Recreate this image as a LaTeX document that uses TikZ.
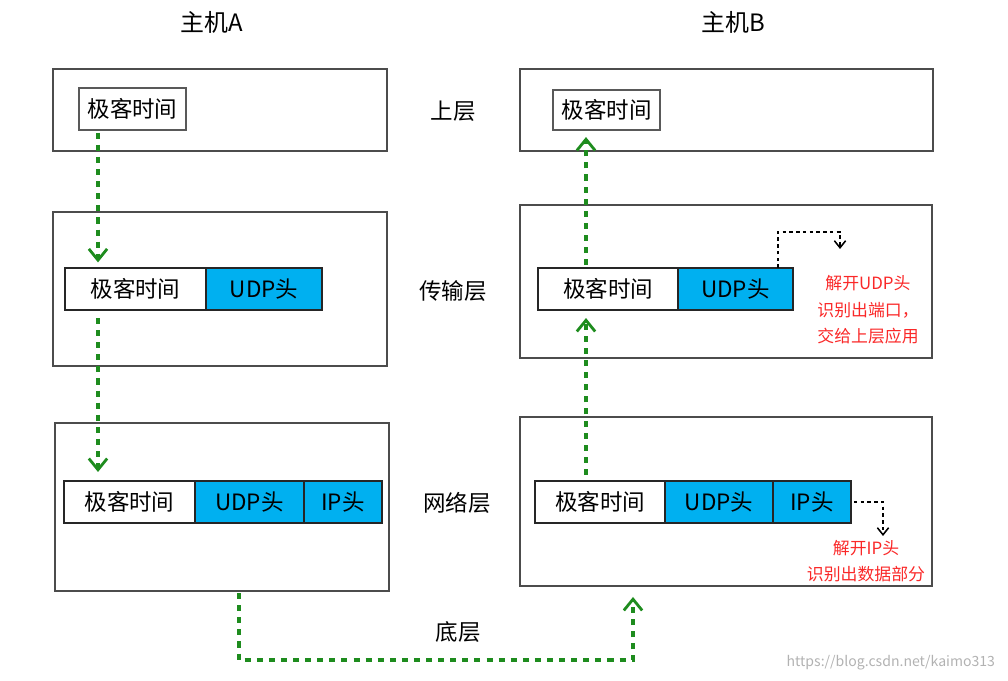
\documentclass[tikz,border=0pt]{standalone}
\usepackage{fontspec}
\setmainfont{Noto Sans CJK SC}
\usepackage{tikz}
\usetikzlibrary{positioning,arrows.meta}

\definecolor{udpblue}{RGB}{0,176,240}
\definecolor{flowgreen}{RGB}{30,140,30}
\definecolor{notered}{RGB}{250,40,40}
\newcommand{\px}{0.025cm}

\tikzset{
  layer/.style={draw=black!70, line width=0.8pt, inner sep=0pt, outer sep=0pt},
  cell/.style={draw=black!85, line width=0.8pt, minimum height=42*\px, inner sep=0pt, outer sep=0pt, font=\fontsize{16}{19}\selectfont},
  hdr/.style={cell, fill=udpblue},
  host/.style={font=\fontsize{17}{20}\selectfont},
  lbl/.style={font=\fontsize{16}{19}\selectfont},
  note/.style={text=notered, align=center, font=\fontsize{12}{18.8}\selectfont},
  flow/.style={draw=flowgreen, line width=2.2pt, dash pattern=on 4.3pt off 4.3pt, -{Straight Barb[length=8pt, width=13pt, line width=2pt]}},
  peel/.style={draw=black, line width=1.1pt, dash pattern=on 2.6pt off 2.2pt, -{Straight Barb[length=5pt, width=8pt]}}
}

\begin{document}
\begin{tikzpicture}[x=0.025cm, y=-0.025cm]
\useasboundingbox (0,0) rectangle (1008,681);

% host A
\node[host] (tA) at (212,22) {主机A};
\node[layer, minimum width=334*\px, minimum height=82*\px] (la1) at (220,110) {};
\node[cell, draw=black!65, minimum width=107*\px] (aU) at (132.5,109) {极客时间};
\node[layer, minimum width=334*\px, minimum height=154*\px] (la2) at (220,289) {};
\node[cell, minimum width=141*\px] (aT1) at (135.5,289) {极客时间};
\node[hdr, minimum width=116*\px, right=0pt of aT1] (aT2) {UDP头};
\node[layer, minimum width=334*\px, minimum height=168*\px] (la3) at (222,507) {};
\node[cell, minimum width=131*\px] (aN1) at (129.5,502) {极客时间};
\node[hdr, minimum width=109*\px, right=0pt of aN1] (aN2) {UDP头};
\node[hdr, minimum width=78*\px, right=0pt of aN2] (aN3) {IP头};

% layer names
\node[lbl] (l1) at (453,111) {上层};
\node[lbl] (l2) at (453,291) {传输层};
\node[lbl] (l3) at (457,503) {网络层};
\node[lbl] (l4) at (458,632) {底层};

% host B
\node[host] (tB) at (733,22) {主机B};
\node[layer, minimum width=413*\px, minimum height=82*\px] (lb1) at (726.5,110) {};
\node[cell, draw=black!65, minimum width=107*\px, minimum height=40*\px] (bU) at (606.5,110) {极客时间};
\node[layer, minimum width=412*\px, minimum height=153*\px] (lb2) at (726,281.5) {};
\node[cell, minimum width=140*\px] (bT1) at (608,289) {极客时间};
\node[hdr, minimum width=115*\px, right=0pt of bT1] (bT2) {UDP头};
\node[layer, minimum width=412*\px, minimum height=169*\px] (lb3) at (726,501.5) {};
\node[cell, minimum width=130*\px] (bN1) at (600,502) {极客时间};
\node[hdr, minimum width=108*\px, right=0pt of bN1] (bN2) {UDP头};
\node[hdr, minimum width=78*\px, right=0pt of bN2] (bN3) {IP头};

\node[note] (n1) at (868,310) {解开UDP头\\识别出端口，\\交给上层应用};
\node[note] (n2) at (866,561) {解开IP头\\识别出数据部分};

% data flow
\coordinate (ax) at (98,0);
\coordinate (bx) at (586,0);
\draw[flow, shorten <=2pt, shorten >=4pt] (aU.south -| ax) -- (aT1.north -| ax);
\draw[flow, shorten <=5.7pt, shorten >=6.4pt] (aT1.south -| ax) -- (aN1.north -| ax);
\coordinate (dA) at (239,660);
\coordinate (dB) at (633,660);
\draw[flow, shorten <=1.5pt, shorten >=7.8pt] (la3.south -| dA) -- (dA) -- (dB) -- (lb3.south -| dB);
\draw[flow, shorten <=4.3pt, shorten >=5.7pt] (bN1.north -| bx) -- (bT1.south -| bx);
\draw[flow, shorten <=2pt, shorten >=5pt] (bT1.north -| bx) -- (bU.south -| bx);

% unpacking
\coordinate (k1) at (840,232);
\coordinate (k2) at (840,249);
\draw[peel] ([xshift=-15*\px]bT2.north east) |- (k1) -- (k2);
\coordinate (k3) at (883,536);
\draw[peel, shorten <=2pt] (bN3.east) -| (k3);

\node[anchor=east, text=black!30, font=\fontsize{10}{12}\selectfont] (wm) at (1000,663) {https://blog.csdn.net/kaimo313};
\end{tikzpicture}
\end{document}
